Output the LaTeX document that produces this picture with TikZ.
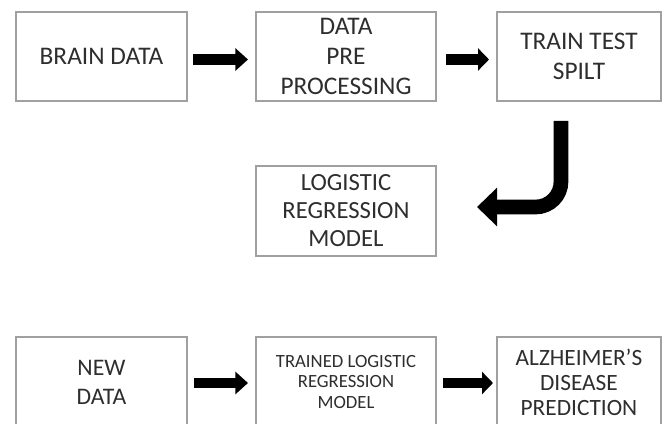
\documentclass[tikz,border=0pt]{standalone}
\usepackage{fontspec}
\setmainfont{Carlito}
\usetikzlibrary{arrows.meta,calc}
\definecolor{boxline}{HTML}{A0A0A0}
\definecolor{txt}{HTML}{2E2E2E}
\tikzset{
  box/.style={draw=boxline, line width=0.8pt, fill=white, inner sep=0pt, outer sep=0pt,
    align=center, text=txt, minimum height=66.75pt},
  bigfont/.style={font=\fontsize{19}{22.5}\selectfont},
  blockarrow/.style={draw=black, line width=8pt,
    -{Triangle[length=9.5pt, width=16.5pt]}},
  bendarrow/.style={draw=black, line width=11pt, rounded corners=19pt,
    -{Triangle[length=15pt, width=28pt]}},
}
\begin{document}
\begin{tikzpicture}[x=0.75pt, y=-0.75pt]
\path[use as bounding box] (0,0) rectangle (665,424);
\clip (0,0) rectangle (665,424);
% top row
\node[box, bigfont, minimum width=128.25pt] (b1) at (101.5,56.5) {BRAIN DATA};
\node[box, bigfont, minimum width=135pt] (b2) at (346,56.5) {DATA\\PRE\\PROCESSING};
\node[box, bigfont, minimum width=123pt] (b3) at (579,56.5) {TRAIN TEST\\SPILT};
% middle
\node[box, font=\fontsize{18.5}{21}\selectfont, minimum width=135pt, minimum height=67.5pt] (lr) at (346,211) {LOGISTIC\\REGRESSION\\MODEL};
% bottom row
\node[box, font=\fontsize{17.8}{21.75}\selectfont, minimum width=128.25pt, minimum height=67.5pt] (n1) at (101.5,382) {NEW\\DATA};
\node[box, font=\fontsize{14}{15.4}\selectfont, minimum width=135pt, minimum height=67.5pt] (n2) at (346,382) {TRAINED LOGISTIC\\REGRESSION\\MODEL};
\node[box, font=\fontsize{17.5}{18.75}\selectfont, minimum width=123pt, minimum height=67.5pt] (n3) at (579,382) {ALZHEIMER’S\\DISEASE\\PREDICTION};
% straight arrows
\draw[blockarrow, shorten <=4.5pt, shorten >=6pt] ([yshift=-2.25pt]b1.east) -- ([yshift=-2.25pt]b2.west);
\draw[blockarrow, shorten <=7.5pt, shorten >=6pt, -{Triangle[length=8.25pt, width=16.5pt]}] ([yshift=-2.25pt]b2.east) -- ([yshift=-2.25pt]b3.west);
\draw[blockarrow, line width=7.5pt, shorten <=5.25pt, shorten >=6pt] ([yshift=-0.75pt]n1.east) -- ([yshift=-0.75pt]n2.west);
\draw[blockarrow, shorten <=5.25pt, shorten >=3pt, -{Triangle[length=8.25pt, width=16.5pt]}] ([yshift=-0.75pt]n2.east) -- ([yshift=-0.75pt]n3.west);
% bent arrow
\coordinate (bs) at ($(b3.south)+(-18,20)$);
\coordinate (be) at ($(lr.east)+(41,-4)$);
\draw[bendarrow] (bs) |- (be);
\end{tikzpicture}
\end{document}
